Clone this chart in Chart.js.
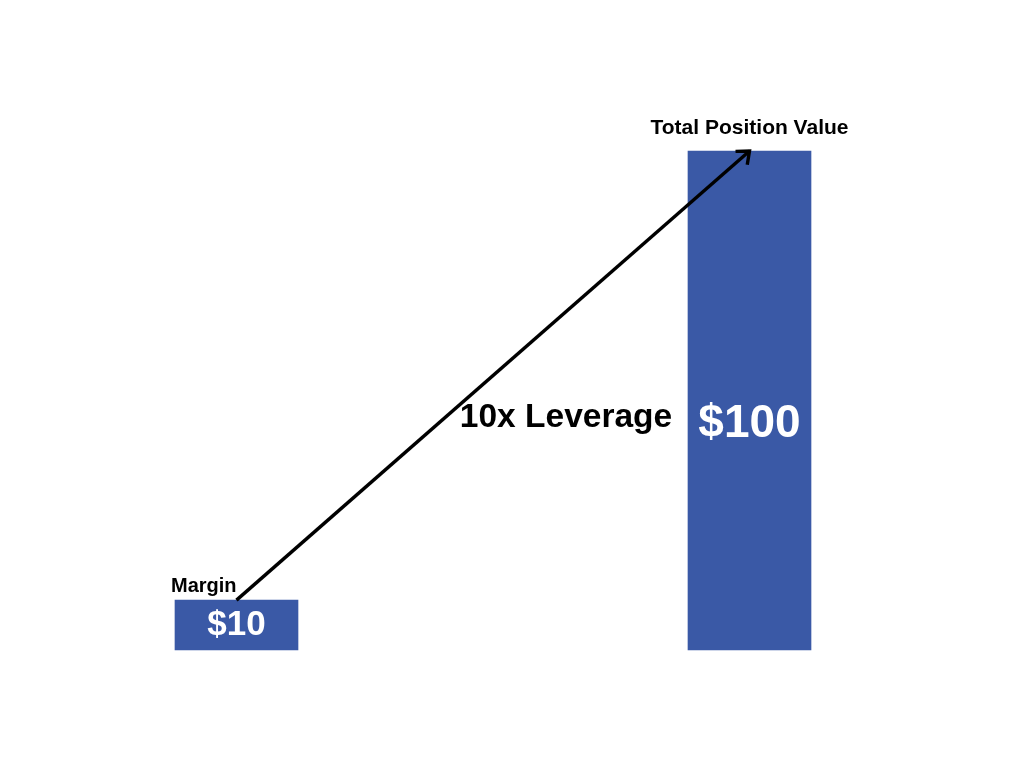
<!DOCTYPE html>
<html>
<head>
<meta charset="utf-8">
<title>10x Leverage</title>
<script src="https://cdn.jsdelivr.net/npm/chart.js@4/dist/chart.umd.min.js"></script>
<style>
	html, body { margin: 0; padding: 0; background: #fff; }
	#wrap { width: 1024px; height: 768px; }
</style>
</head>
<body>
<div id="wrap"><canvas id="grafico"></canvas></div>
<script>
// Dados do gráfico
const categorias = ["Margin", "Total Position Value"];
const valores = [10, 100];
const rotulosValor = ["$10", "$100"];
const textoSeta = "10x Leverage";

const corBarra = "#3A59A6";
const fonte = "'Liberation Sans', Arial, sans-serif";

// Plugin para desenhar rótulos e a seta
const rotulosPlugin = {
	id: "rotulos",
	afterDatasetsDraw(chart) {
		const ctx = chart.ctx;
		const meta = chart.getDatasetMeta(0);
		const b0 = meta.data[0];
		const b1 = meta.data[1];

		ctx.save();
		// seta
		ctx.strokeStyle = "#000";
		ctx.lineWidth = 3.4;
		ctx.lineCap = "butt";
		ctx.beginPath();
		ctx.moveTo(b0.x, b0.y);
		ctx.lineTo(b1.x, b1.y);
		ctx.stroke();
		const ang = Math.atan2(b1.y - b0.y, b1.x - b0.x);
		const tam = 14;
		ctx.lineJoin = "miter";
		ctx.beginPath();
		ctx.moveTo(b1.x + tam * Math.cos(ang + Math.PI * 0.78), b1.y + tam * Math.sin(ang + Math.PI * 0.78));
		ctx.lineTo(b1.x, b1.y);
		ctx.lineTo(b1.x + tam * Math.cos(ang - Math.PI * 0.78), b1.y + tam * Math.sin(ang - Math.PI * 0.78));
		ctx.stroke();

		// rótulos das categorias
		ctx.fillStyle = "#000";
		ctx.textBaseline = "alphabetic";
		ctx.font = "bold 20px " + fonte;
		ctx.textAlign = "left";
		ctx.fillText(categorias[0], b0.x - b0.width / 2 - 4, b0.y - 8);
		ctx.textAlign = "center";
		ctx.font = "bold 21px " + fonte;
		ctx.fillText(categorias[1], b1.x, b1.y - 17);

		// valores dentro das barras
		ctx.fillStyle = "#fff";
		ctx.font = "bold 35px " + fonte;
		ctx.fillText(rotulosValor[0], b0.x, b0.y + 35);
		ctx.font = "bold 46px " + fonte;
		ctx.fillText(rotulosValor[1], b1.x, 437);

		// texto da seta
		ctx.fillStyle = "#000";
		ctx.font = "bold 33.5px " + fonte;
		ctx.fillText(textoSeta, 566, 427);
		ctx.restore();
	}
};

const ctx = document.getElementById("grafico").getContext("2d");
const grafico = new Chart(ctx, {
	type: "bar",
	data: {
		labels: categorias,
		datasets: [
			{
				data: valores,
				backgroundColor: corBarra,
				borderWidth: 0,
				barThickness: 123,
				clip: false,
			},
		],
	},
	options: {
		responsive: true,
		maintainAspectRatio: false,
		animation: false,
		layout: {
			padding: { left: 236.5, right: 274.5, top: 151, bottom: 118 },
		},
		plugins: {
			legend: { display: false },
			tooltip: { enabled: false },
		},
		scales: {
			x: { display: false, offset: false },
			y: { display: false, min: 0, max: 100 },
		},
	},
	plugins: [rotulosPlugin],
});
</script>
</body>
</html>
